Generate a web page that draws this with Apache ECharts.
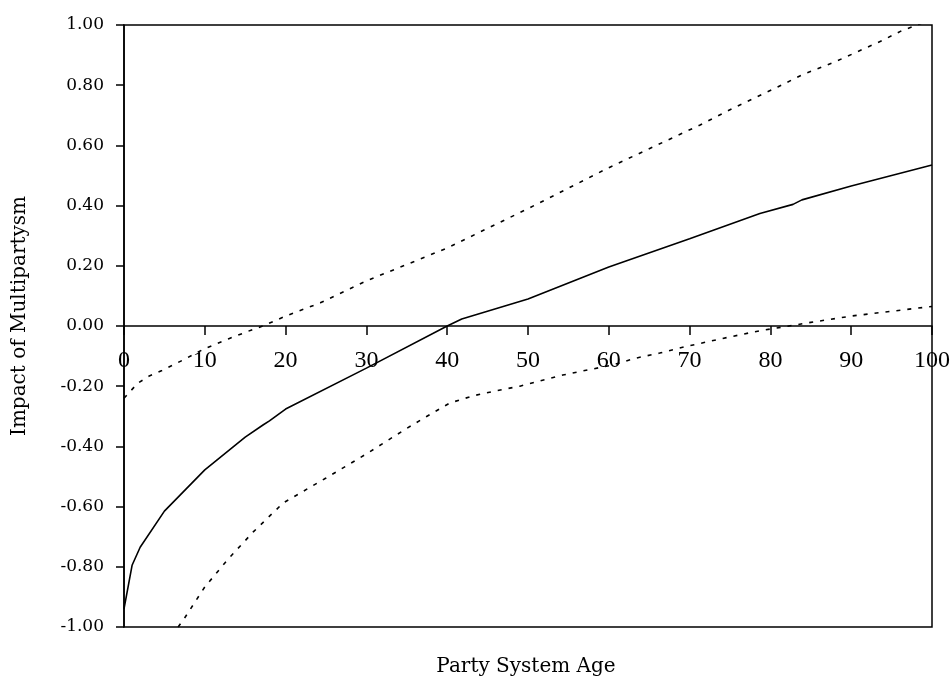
<!DOCTYPE html>
<html>
<head>
<meta charset="utf-8">
<script src="https://cdn.jsdelivr.net/npm/echarts@6/dist/echarts.min.js"></script>
<style>html,body{margin:0;padding:0;background:#fff;}#c{width:951px;height:681px;}</style>
</head>
<body>
<div id="c"></div>
<script>
// Impact estimate (solid) : [age, value]
const impact = [[0,-0.94],[1,-0.795],[2,-0.735],[5,-0.615],[10,-0.478],[15,-0.369],[17.2,-0.329],[18,-0.315],[20,-0.276],[30,-0.14],[40,0.0],[41.8,0.023],[50,0.09],[60,0.196],[70,0.29],[78.7,0.374],[82.8,0.404],[83.9,0.419],[90,0.465],[100,0.535]];
// Upper confidence bound (dotted)
const upper = [[0,-0.24],[1.7,-0.19],[3.2,-0.165],[4.7,-0.148],[7.3,-0.113],[10,-0.075],[12.9,-0.043],[15.8,-0.013],[17.2,0.0],[20,0.033],[24.3,0.077],[30,0.15],[40,0.259],[50,0.39],[57,0.485],[60,0.526],[71.3,0.668],[75.4,0.724],[80.9,0.794],[83.9,0.834],[88.2,0.88],[93.8,0.948],[96.4,0.983],[97.9,0.997],[100,1.02]];
// Lower confidence bound (dotted)
const lower = [[6.7,-1.0],[7.5,-0.97],[10,-0.867],[12.9,-0.774],[16,-0.684],[19.7,-0.588],[25,-0.505],[30,-0.425],[32.4,-0.384],[35,-0.34],[37.5,-0.3],[40.3,-0.256],[43.2,-0.232],[46.1,-0.215],[49,-0.2],[54.3,-0.163],[57.4,-0.146],[60.4,-0.13],[63.3,-0.107],[66.3,-0.09],[69.4,-0.069],[72.3,-0.052],[75.2,-0.035],[78.1,-0.019],[80,-0.01],[85,0.012],[90,0.033],[100,0.065]];
const xTicks = [0,10,20,30,40,50,60,70,80,90,100];
const yTicks = [-1,-0.8,-0.6,-0.4,-0.2,0,0.2,0.4,0.6,0.8,1];
const xTitle = 'Party System Age';
const yTitle = 'Impact of Multipartysm';

const font = 'DejaVu Serif';
const chart = echarts.init(document.getElementById('c'));
chart.setOption({
  animation: false,
  backgroundColor: '#fff',
  grid: {left: 124, right: 19, top: 25, bottom: 54, containLabel: false, outerBoundsMode: 'none', show: true, borderColor: '#000', borderWidth: 1.5, backgroundColor: 'transparent'},
  xAxis: {
    type: 'value', min: xTicks[0], max: xTicks[xTicks.length-1], interval: 10,
    offset: -301,
    axisLine: {onZero: false, lineStyle: {color: '#000', width: 1.5}},
    axisTick: {show: true, length: 9, lineStyle: {color: '#000', width: 1.5}},
    axisLabel: {color: '#000', fontFamily: 'Liberation Serif', fontSize: 24, margin: 23},
    splitLine: {show: false}
  },
  yAxis: {
    type: 'value', min: yTicks[0], max: yTicks[yTicks.length-1], interval: 0.2,
    name: yTitle, nameLocation: 'middle', nameGap: 94, nameRotate: 90,
    nameTextStyle: {color: '#000', fontFamily: font, fontSize: 20, padding: [0, 0, 0, 20]},
    axisLine: {show: true, onZero: false, lineStyle: {color: '#000', width: 1.5}},
    axisTick: {show: true, length: 8, lineStyle: {color: '#000', width: 1.5}},
    axisLabel: {color: '#000', fontFamily: font, fontSize: 17, margin: 20, formatter: v => v.toFixed(2)},
    splitLine: {show: false}
  },
  graphic: [{type: 'text', x: 526, y: 667, style: {text: xTitle, fill: '#000', font: '20px "DejaVu Serif"', textAlign: 'center', textVerticalAlign: 'middle'}}],
  series: [
    {type: 'line', data: impact, symbol: 'none', clip: true, lineStyle: {color: '#000', width: 1.6}},
    {type: 'line', data: upper, symbol: 'none', clip: true, lineStyle: {color: '#000', width: 1.6, type: [4, 7]}},
    {type: 'line', data: lower, symbol: 'none', clip: true, lineStyle: {color: '#000', width: 1.6, type: [4, 7]}}
  ]
});
</script>
</body>
</html>
